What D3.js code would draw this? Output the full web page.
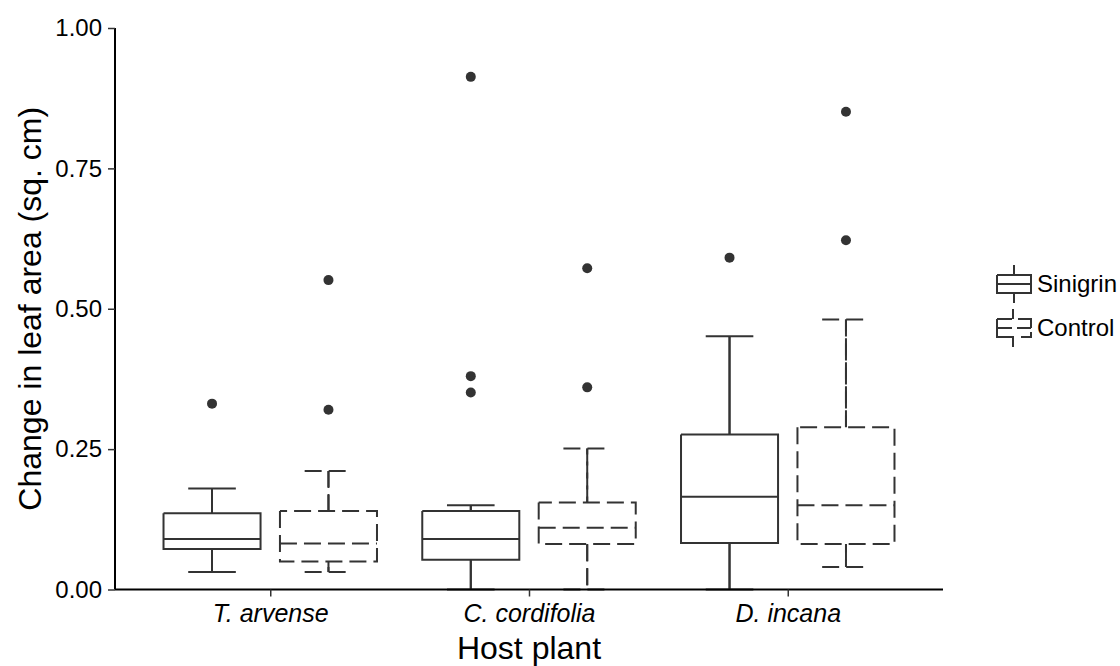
<!DOCTYPE html>
<html lang="en">
<head>
	<meta charset="utf-8">
	<title>Leaf area boxplot</title>
	<script type="text/javascript" src="https://cdn.jsdelivr.net/npm/d3@7"></script>
	<style>
		body { margin: 0; background: white; }
		svg { display: block; font-family: "Liberation Sans", Arial, sans-serif; }
	</style>
</head>
<body>
<svg id="chart" width="1120" height="666"></svg>
<script type="text/javascript">

//categories and groups
var hosts = ["T. arvense", "C. cordifolia", "D. incana"]
var treatments = ["Sinigrin", "Control"]
var yTicks = [0, 0.25, 0.5, 0.75, 1]

//box stats, one value per host
var sinigrinLow = [0.031, 0.0, 0.0]
var sinigrinQ1 = [0.072, 0.053, 0.083]
var sinigrinMed = [0.090, 0.090, 0.165]
var sinigrinQ3 = [0.136, 0.140, 0.276]
var sinigrinHigh = [0.180, 0.150, 0.451]
var sinigrinOut = [[0.331], [0.351, 0.380, 0.913], [0.591]]

var controlLow = [0.031, 0.0, 0.040]
var controlQ1 = [0.050, 0.081, 0.081]
var controlMed = [0.082, 0.110, 0.150]
var controlQ3 = [0.140, 0.155, 0.289]
var controlHigh = [0.211, 0.251, 0.481]
var controlOut = [[0.320, 0.551], [0.360, 0.572], [0.622, 0.851]]

//build the rows for d3
var boxes = []
hosts.forEach(function(h, i) {
	boxes.push({host: h, trt: "Sinigrin", low: sinigrinLow[i], q1: sinigrinQ1[i], med: sinigrinMed[i], q3: sinigrinQ3[i], high: sinigrinHigh[i], out: sinigrinOut[i]})
	boxes.push({host: h, trt: "Control", low: controlLow[i], q1: controlQ1[i], med: controlMed[i], q3: controlQ3[i], high: controlHigh[i], out: controlOut[i]})
})

var svg = d3.select("#chart")
var pLeft = 115, pRight = 943, pTop = 28, pBottom = 589.5
var lineCol = "#333333"
var dash = "17,7"

var x = d3.scalePoint().domain(hosts).range([pLeft, pRight]).padding(0.6)
var y = d3.scaleLinear().domain([0, 1]).range([pBottom, pTop])
var step = x.step()
var dodge = d3.scaleOrdinal().domain(treatments).range([-0.225 * step, 0.225 * step])
var halfW = 0.1875 * step
var capW = 0.092 * step
var dashOf = function(d) { return d.trt == "Control" ? dash : null }

var g = svg.append("g")
var bx = g.selectAll(".box").data(boxes).enter().append("g").attr("class", "box")
	.attr("fill", "none").attr("stroke", lineCol).attr("stroke-width", 2)

//errorbar first (caps + full vertical), box goes over it
bx.each(function(d) {
	var s = d3.select(this)
	var cx = x(d.host) + dodge(d.trt)
	s.append("line").attr("x1", cx - capW).attr("x2", cx + capW).attr("y1", y(d.high)).attr("y2", y(d.high)).attr("stroke-dasharray", dashOf(d))
	s.append("line").attr("x1", cx).attr("x2", cx).attr("y1", y(d.high)).attr("y2", y(d.low)).attr("stroke-dasharray", dashOf(d))
	s.append("line").attr("x1", cx - capW).attr("x2", cx + capW).attr("y1", y(d.low)).attr("y2", y(d.low)).attr("stroke-dasharray", dashOf(d))
	//whiskers
	s.append("line").attr("x1", cx).attr("x2", cx).attr("y1", y(d.q3)).attr("y2", y(d.high)).attr("stroke-dasharray", dashOf(d))
	s.append("line").attr("x1", cx).attr("x2", cx).attr("y1", y(d.q1)).attr("y2", y(d.low)).attr("stroke-dasharray", dashOf(d))
	//box
	var x0 = cx - halfW, x1 = cx + halfW
	s.append("path")
		.attr("d", "M" + x0 + "," + y(d.q3) + "V" + y(d.q1) + "H" + x1 + "V" + y(d.q3) + "H" + x0)
		.attr("fill", "white").attr("stroke-dasharray", dashOf(d))
	s.append("line").attr("x1", x0).attr("x2", x1).attr("y1", y(d.med)).attr("y2", y(d.med)).attr("stroke-dasharray", dashOf(d))
	//outliers
	s.selectAll("circle").data(d.out).enter().append("circle")
		.attr("cx", cx).attr("cy", function(v) { return y(v) }).attr("r", 5)
		.attr("fill", lineCol).attr("stroke", "none")
})

//axes
var yAxis = g.append("g").attr("transform", "translate(" + pLeft + ",0)")
	.call(d3.axisLeft(y).tickValues(yTicks).tickFormat(d3.format(".2f")).tickSize(7).tickPadding(6))
var xAxis = g.append("g").attr("transform", "translate(0," + pBottom + ")")
	.call(d3.axisBottom(x).tickSize(7).tickPadding(8))
xAxis.select(".domain").attr("d", "M" + pLeft + ",0H" + pRight)
yAxis.select(".domain").attr("d", "M0," + pTop + "V" + pBottom)
svg.selectAll(".domain").attr("stroke", "black").attr("stroke-width", 2)
svg.selectAll(".tick line").attr("stroke", "#333").attr("stroke-width", 1.5)
yAxis.selectAll("text").attr("font-size", 24).attr("fill", "black").attr("font-family", null)
xAxis.selectAll("text").attr("font-size", 25).attr("fill", "black").attr("font-style", "italic").attr("font-family", null)

//titles
svg.append("text").attr("x", (pLeft + pRight) / 2).attr("y", 659)
	.attr("text-anchor", "middle").attr("font-size", 32).text("Host plant")
svg.append("text").attr("transform", "translate(41," + ((pTop + pBottom) / 2) + ") rotate(-90)")
	.attr("text-anchor", "middle").attr("font-size", 32).text("Change in leaf area (sq. cm)")

//legend, the dashed key gets its own pattern so it looks like the original
var keyDash = {Sinigrin: {box: null, med: null}, Control: {box: "35,7,15,4,22,6,15", med: "15,5,14"}}
var leg = svg.append("g").selectAll("g").data(treatments).enter().append("g")
	.attr("transform", function(d, i) { return "translate(997," + (284 + i * 44) + ")" })
leg.each(function(t) {
	var s = d3.select(this).attr("fill", "none").attr("stroke", lineCol).attr("stroke-width", 2)
	var wx = t == "Control" ? 16 : 17
	s.append("line").attr("x1", wx).attr("x2", wx).attr("y1", -19).attr("y2", -9)
	s.append("line").attr("x1", wx).attr("x2", wx).attr("y1", 9).attr("y2", 19)
	s.append("path").attr("d", "M0,-9V9H34V-9H0").attr("fill", "white").attr("stroke-dasharray", keyDash[t].box)
	s.append("line").attr("x1", 0).attr("x2", 34).attr("y1", 0).attr("y2", 0).attr("stroke-dasharray", keyDash[t].med)
	s.append("text").attr("x", 40).attr("y", 0).attr("dy", "0.35em").attr("stroke", "none")
		.attr("fill", "black").attr("font-size", 24).text(t)
})

</script>
</body>
</html>
